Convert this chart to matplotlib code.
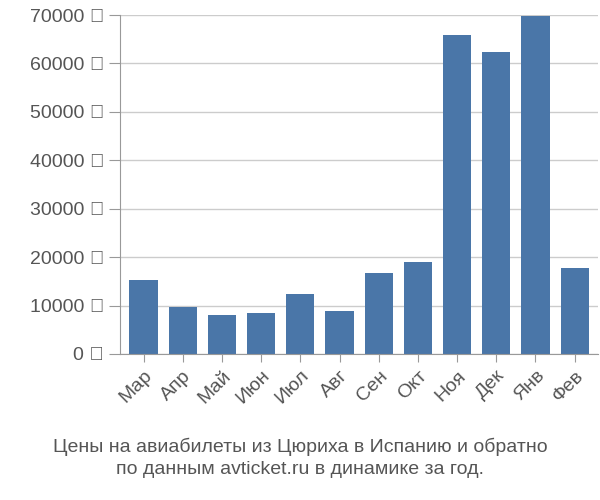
import matplotlib
matplotlib.use("Agg")
import matplotlib.pyplot as plt

plt.rcParams["font.family"] = "Liberation Sans"

months = ["Мар", "Апр", "Май", "Июн", "Июл", "Авг", "Сен", "Окт", "Ноя", "Дек", "Янв", "Фев"]
prices = [15200, 9700, 8100, 8500, 12400, 8900, 16700, 19100, 65900, 62300, 69800, 17800]
yticks = list(range(0, 70001, 10000))

fig = plt.figure(figsize=(6, 5), dpi=100)
ax = fig.add_axes([0.2, 0.292, 0.797, 0.678])
ax.bar(range(len(months)), prices, width=0.72, color="#4a76a8", zorder=2)
ax.set_xlim(-0.6, len(months) - 0.4)
ax.set_ylim(0, 70000)
ax.set_yticks(yticks)
ax.set_yticklabels([f"{v} ₽" for v in yticks], fontsize=14, color="#555555")
ax.set_xticks(range(len(months)))
ax.set_xticklabels(months, rotation=45, ha="right", rotation_mode="anchor", fontsize=14, color="#555555")
ax.grid(axis="y", color="#cccccc", linewidth=1, zorder=0)
for s in ["top", "right"]:
    ax.spines[s].set_visible(False)
ax.spines["left"].set_color("#999999")
ax.spines["bottom"].set_color("#999999")
ax.tick_params(axis="y", length=8, color="#999999")
ax.tick_params(axis="x", length=6, color="#999999")

fig.text(0.5, 0.085, "Цены на авиабилеты из Цюриха в Испанию и обратно\nпо данным avticket.ru в динамике за год.",
         ha="center", va="center", fontsize=14, color="#555555", linespacing=1.4)
fig.savefig("out.png")
